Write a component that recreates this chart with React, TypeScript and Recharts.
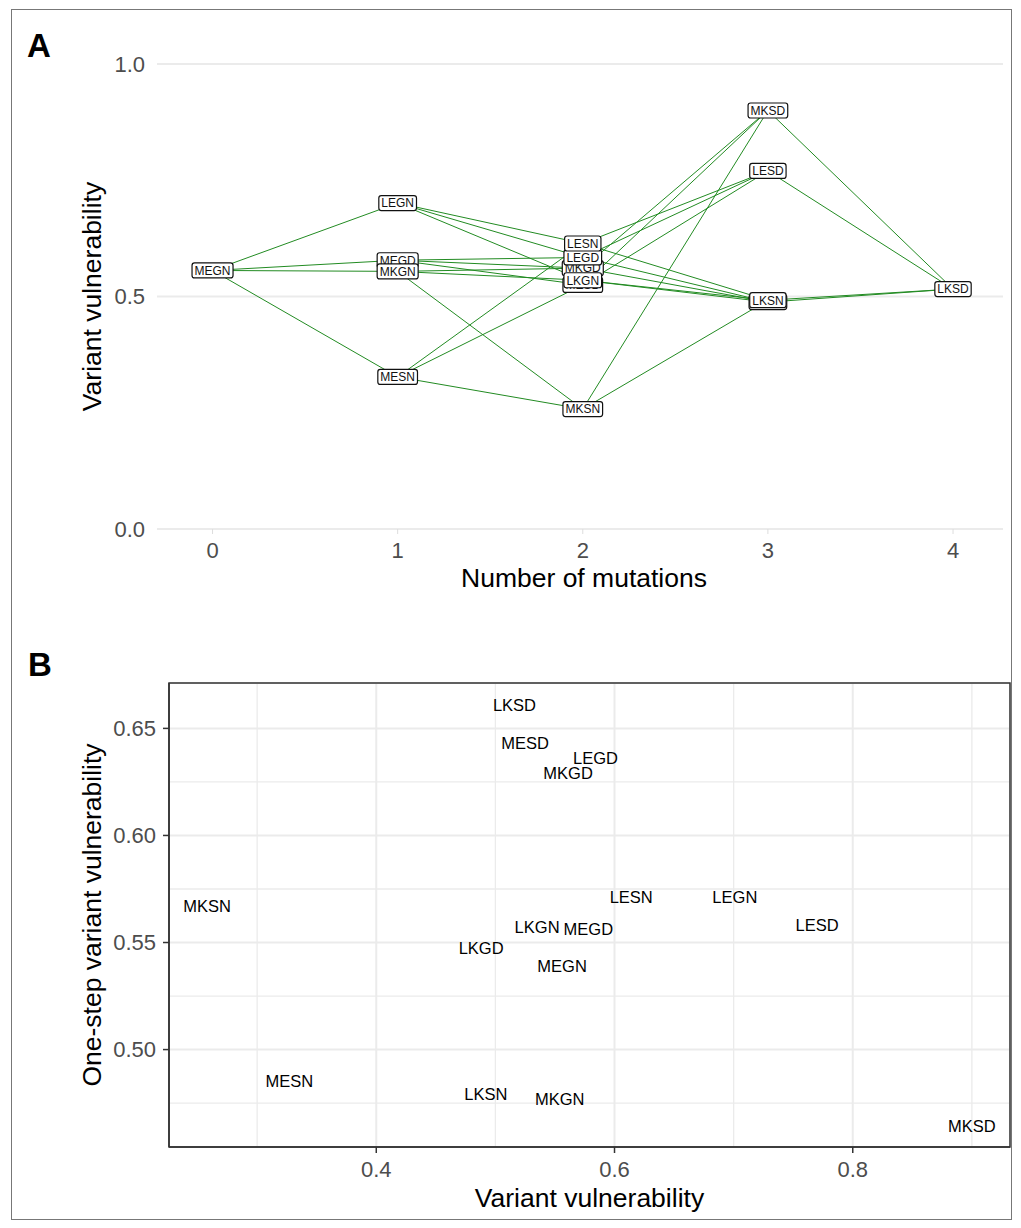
import React from 'react'
import { ComposedChart, ScatterChart, Line, Scatter, XAxis, YAxis, CartesianGrid, ReferenceArea, Label } from 'recharts'

// variants in drawing order (later ones sit on top)
const variants = ['MEGN', 'LEGN', 'MEGD', 'MKGN', 'MESN', 'MESD', 'MKGD', 'LEGD', 'LESN', 'LKGN', 'MKSN', 'LKGD', 'LKSN', 'LESD', 'MKSD', 'LKSD']
const mutations = [0, 1, 1, 1, 1, 2, 2, 2, 2, 2, 2, 3, 3, 3, 3, 4]
const vulnerability = [0.556, 0.701, 0.578, 0.554, 0.327, 0.525, 0.561, 0.584, 0.614, 0.535, 0.258, 0.488, 0.492, 0.77, 0.9, 0.516]
const oneStepVulnerability = [0.539, 0.571, 0.556, 0.477, 0.485, 0.643, 0.629, 0.636, 0.571, 0.557, 0.567, 0.5475, 0.479, 0.558, 0.464, 0.661]

// one-mutation steps between variants
const edges: [string, string][] = [
  ['MEGN', 'LEGN'], ['MEGN', 'MKGN'], ['MEGN', 'MESN'], ['MEGN', 'MEGD'],
  ['LEGN', 'LKGN'], ['LEGN', 'LESN'], ['LEGN', 'LEGD'],
  ['MKGN', 'LKGN'], ['MKGN', 'MKSN'], ['MKGN', 'MKGD'],
  ['MESN', 'LESN'], ['MESN', 'MKSN'], ['MESN', 'MESD'],
  ['MEGD', 'LEGD'], ['MEGD', 'MKGD'], ['MEGD', 'MESD'],
  ['LKGN', 'LKSN'], ['LKGN', 'LKGD'], ['LESN', 'LKSN'], ['LESN', 'LESD'],
  ['LEGD', 'LKGD'], ['LEGD', 'LESD'], ['MKSN', 'LKSN'], ['MKSN', 'MKSD'],
  ['MKGD', 'LKGD'], ['MKGD', 'MKSD'], ['MESD', 'LESD'], ['MESD', 'MKSD'],
  ['LKSN', 'LKSD'], ['LKGD', 'LKSD'], ['LESD', 'LKSD'], ['MKSD', 'LKSD'],
]

const mutationTicks = [0, 1, 2, 3, 4]
const vulnTicksA = [0, 0.5, 1]
const vulnTicksB = [0.4, 0.6, 0.8]
const vulnMinorB = [0.3, 0.5, 0.7, 0.9]
const oneStepTicks = [0.5, 0.55, 0.6, 0.65]
const oneStepMinor = [0.475, 0.525, 0.575, 0.625]

const xDomainA: [number, number] = [-0.3, 4.27]
const xDomainB: [number, number] = [0.226, 0.932]
const yDomainB: [number, number] = [0.4545, 0.6712]

const FONT = '"Liberation Sans", Arial, Helvetica, sans-serif'
const GREEN = '#228B22'
const GRID = '#EBEBEB'
const TICK_TEXT = '#4D4D4D'

const nodes = variants.map((name, i) => ({ name, x: mutations[i], y: vulnerability[i] }))
const points = variants.map((name, i) => ({ name, x: vulnerability[i], y: oneStepVulnerability[i] }))
const edgeData = edges.map(([a, b]) => {
  const i = variants.indexOf(a)
  const j = variants.indexOf(b)
  return [
    { x: mutations[i], y: vulnerability[i] },
    { x: mutations[j], y: vulnerability[j] },
  ]
})

const glyph: Record<string, number> = { M: 0.833, E: 0.667, G: 0.778, N: 0.722, L: 0.556, K: 0.667, S: 0.667, D: 0.722 }
const textWidth = (s: string, size: number) => s.split('').reduce((acc, c) => acc + (glyph[c] ?? 0.6), 0) * size

function NodeLabel(props: any) {
  const { cx, cy, payload } = props
  if (cx == null || cy == null) return null
  const w = textWidth(payload.name, 12) + 5
  return (
    <g>
      <rect x={cx - w / 2} y={cy - 7.5} width={w} height={15} rx={2.5} ry={2.5} fill="#fff" stroke="#111" strokeWidth={1.2} />
      <text x={cx} y={cy} dy="0.36em" textAnchor="middle" fontSize={12} fill="#111" fontFamily={FONT}>
        {payload.name}
      </text>
    </g>
  )
}

function PointLabel(props: any) {
  const { cx, cy, payload } = props
  if (cx == null || cy == null) return null
  return (
    <text x={cx} y={cy} dy="0.35em" textAnchor="middle" fontSize={16.5} fill="#000" fontFamily={FONT}>
      {payload.name}
    </text>
  )
}

function NetworkPanel() {
  return (
    <ComposedChart width={1021} height={599} margin={{ top: 64, right: 18, bottom: 0, left: 0 }}>
      <CartesianGrid vertical={false} stroke={GRID} strokeWidth={2} />
      <XAxis
        type="number"
        dataKey="x"
        domain={xDomainA}
        ticks={mutationTicks}
        allowDataOverflow
        axisLine={false}
        tickLine={{ stroke: '#DDDDDD' }}
        tickSize={5}
        tickMargin={8}
        height={70}
        tick={{ fontSize: 22, fill: TICK_TEXT }}
      >
        <Label value="Number of mutations" position="insideBottom" offset={12.5} dx={4} fontSize={26.5} fill="#000" />
      </XAxis>
      <YAxis
        type="number"
        dataKey="y"
        domain={[0, 1]}
        ticks={vulnTicksA}
        allowDataOverflow
        axisLine={false}
        tickLine={false}
        tickSize={0}
        tickMargin={12}
        width={157}
        tickFormatter={(v: number) => v.toFixed(1)}
        tick={{ fontSize: 22, fill: TICK_TEXT }}
      >
        <Label value="Variant vulnerability" angle={-90} position="insideLeft" offset={92} style={{ textAnchor: 'middle' }} fontSize={26.5} fill="#000" />
      </YAxis>
      {edgeData.map((d, k) => (
        <Line
          key={`edge-${k}`}
          data={d}
          dataKey="y"
          type="linear"
          stroke={GREEN}
          strokeWidth={1}
          dot={false}
          activeDot={false}
          legendType="none"
          isAnimationActive={false}
        />
      ))}
      <Scatter data={nodes} shape={NodeLabel} isAnimationActive={false} />
    </ComposedChart>
  )
}

function ScatterPanel() {
  return (
    <ScatterChart width={1021} height={618} margin={{ top: 73, right: 11, bottom: 0, left: 0 }}>
      <CartesianGrid stroke={GRID} strokeWidth={1.3} verticalValues={vulnMinorB} horizontalValues={oneStepMinor} />
      <CartesianGrid stroke={GRID} strokeWidth={2} />
      <XAxis
        type="number"
        dataKey="x"
        domain={xDomainB}
        ticks={vulnTicksB}
        allowDataOverflow
        axisLine={{ stroke: '#333', strokeWidth: 1.5 }}
        tickLine={{ stroke: '#333', strokeWidth: 1.5 }}
        tickSize={6}
        tickMargin={8}
        height={81}
        tickFormatter={(v: number) => v.toFixed(1)}
        tick={{ fontSize: 22, fill: TICK_TEXT }}
      >
        <Label value="Variant vulnerability" position="insideBottom" offset={21.5} fontSize={26.5} fill="#000" />
      </XAxis>
      <YAxis
        type="number"
        dataKey="y"
        domain={yDomainB}
        ticks={oneStepTicks}
        allowDataOverflow
        axisLine={{ stroke: '#333', strokeWidth: 1.5 }}
        tickLine={{ stroke: '#333', strokeWidth: 1.5 }}
        tickSize={6}
        tickMargin={7}
        width={169}
        tickFormatter={(v: number) => v.toFixed(2)}
        tick={{ fontSize: 22, fill: TICK_TEXT }}
      >
        <Label value="One-step variant vulnerability" angle={-90} position="insideLeft" offset={92} style={{ textAnchor: 'middle' }} fontSize={26.5} fill="#000" />
      </YAxis>
      <ReferenceArea x1={xDomainB[0]} x2={xDomainB[1]} y1={yDomainB[0]} y2={yDomainB[1]} fill="none" stroke="#333" strokeWidth={1.5} />
      <Scatter data={points} shape={PointLabel} isAnimationActive={false} />
    </ScatterChart>
  )
}

export default function App() {
  return (
    <div style={{ position: 'absolute', left: 0, top: 0, width: 1021, height: 1228, background: '#fff', fontFamily: FONT }}>
      <svg style={{ position: 'absolute', left: 0, top: 0 }} width={1021} height={1228}>
        <rect x={11.5} y={9.5} width={1000} height={1210} fill="none" stroke="#777" strokeWidth={1} />
        <text x={27} y={56.5} fontSize={33} fontWeight="bold" fill="#000" fontFamily={FONT}>A</text>
        <text x={28} y={676} fontSize={33} fontWeight="bold" fill="#000" fontFamily={FONT}>B</text>
      </svg>
      <div style={{ position: 'absolute', left: 0, top: 0 }}>
        <NetworkPanel />
      </div>
      <div style={{ position: 'absolute', left: 0, top: 610 }}>
        <ScatterPanel />
      </div>
    </div>
  )
}
